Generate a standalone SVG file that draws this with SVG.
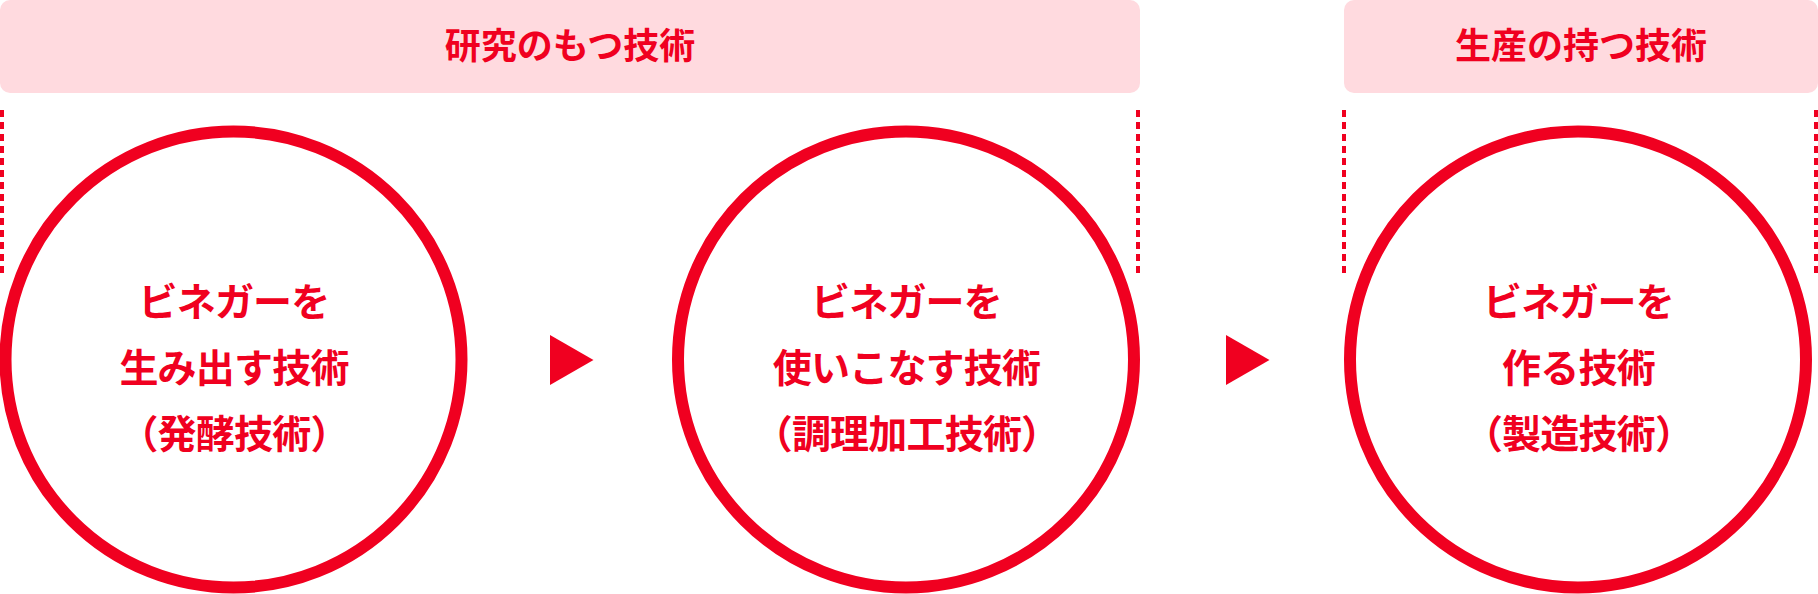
<svg xmlns="http://www.w3.org/2000/svg" width="1818" height="594" viewBox="0 0 1818 594">
  <style>
    .hdr { fill: #FFDADF; }
    .hdr-text { font-family: "Noto Sans CJK JP", "Noto Sans", sans-serif; font-weight: 700; font-size: 36px; fill: #F00020; text-anchor: middle; }
    .ring { fill: none; stroke: #F00020; stroke-width: 12; }
    .ring-text { font-family: "Noto Sans CJK JP", "Noto Sans", sans-serif; font-weight: 700; font-size: 39px; letter-spacing: -0.8px; fill: #F00020; text-anchor: middle; }
    .dash { stroke: #F00020; stroke-width: 4; stroke-dasharray: 7 5; fill: none; }
    .arrow { fill: #F00020; }
  </style>
  <rect width="1818" height="594" fill="#FFFFFF"/>

  <g id="header-research">
    <rect class="hdr" x="0" y="0" width="1140" height="93" rx="10" ry="10"/>
    <text class="hdr-text" x="570" y="59">研究のもつ技術</text>
  </g>
  <g id="header-production">
    <rect class="hdr" x="1344" y="0" width="474" height="93" rx="10" ry="10"/>
    <text class="hdr-text" x="1581" y="59">生産の持つ技術</text>
  </g>

  <g id="brackets">
    <line class="dash" x1="2" y1="110" x2="2" y2="273"/>
    <line class="dash" x1="1138" y1="110" x2="1138" y2="273"/>
    <line class="dash" x1="1344" y1="110" x2="1344" y2="273"/>
    <line class="dash" x1="1816" y1="110" x2="1816" y2="273"/>
  </g>

  <g id="node-fermentation">
    <circle class="ring" cx="233.5" cy="359.5" r="228"/>
    <text class="ring-text" x="234" y="316">ビネガーを</text>
    <text class="ring-text" x="234" y="382">生み出す技術</text>
    <text class="ring-text" x="234" y="448">（発酵技術）</text>
  </g>
  <g id="node-processing">
    <circle class="ring" cx="906" cy="359.5" r="228"/>
    <text class="ring-text" x="906.5" y="316">ビネガーを</text>
    <text class="ring-text" x="906.5" y="382">使いこなす技術</text>
    <text class="ring-text" x="906.5" y="448">（調理加工技術）</text>
  </g>
  <g id="node-manufacturing">
    <circle class="ring" cx="1578" cy="359.5" r="228"/>
    <text class="ring-text" x="1578.5" y="316">ビネガーを</text>
    <text class="ring-text" x="1578.5" y="382">作る技術</text>
    <text class="ring-text" x="1578.5" y="448">（製造技術）</text>
  </g>

  <g id="connectors">
    <polygon class="arrow" points="550,335 593.5,360 550,385"/>
    <polygon class="arrow" points="1226,335 1269.5,360 1226,385"/>
  </g>
</svg>
